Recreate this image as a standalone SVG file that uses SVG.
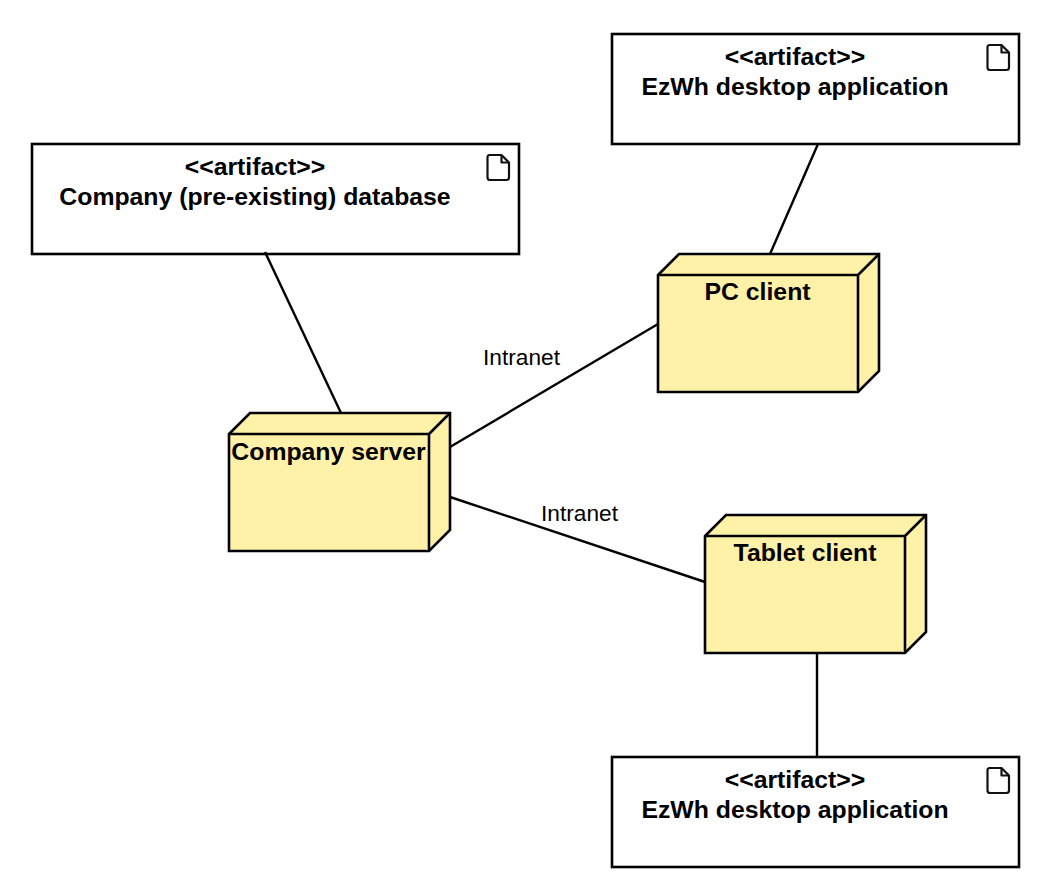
<svg xmlns="http://www.w3.org/2000/svg" width="1038" height="892" viewBox="0 0 1038 892">
<style>
.box{fill:#fff;stroke:#000;stroke-width:2.6}
.node{fill:#fff2a8;stroke:#000;stroke-width:2.6;stroke-linejoin:miter}
.conn{fill:none;stroke:#000;stroke-width:2.4}
.icon{fill:none;stroke:#111;stroke-width:2.2;stroke-linejoin:round}
text{font-family:"Liberation Sans",Arial,sans-serif;fill:#000;text-anchor:middle}
.b{font-size:24.8px;font-weight:bold}
.l{font-size:22.7px}
</style>
<defs>
<g id="doc"><path class="icon" d="M2.500 0H14.500L22 7.500V22.500Q22 25 19.500 25H3Q0.500 25 0.500 22.500V2.500Q0.500 0 2.500 0Z"/><path class="icon" d="M14.500 0V7.500H22"/></g>
<g id="cube"><path class="node" d="M0 21L21 0H221V117L200 138H0Z"/><path class="node" d="M0 21H200V138M200 21L221 0"/></g>
</defs>
<g id="artifact-db"><rect class="box" x="32" y="144" width="487" height="110"/><use href="#doc" x="487" y="155"/><text class="b" x="255" y="175">&lt;&lt;artifact&gt;&gt;</text><text class="b" x="255" y="205">Company (pre-existing) database</text></g>
<g id="artifact-desktop-top"><rect class="box" x="612" y="34" width="407" height="110"/><use href="#doc" x="987" y="45"/><text class="b" x="795" y="65">&lt;&lt;artifact&gt;&gt;</text><text class="b" x="795" y="95">EzWh desktop application</text></g>
<g id="artifact-desktop-bottom"><rect class="box" x="612" y="757" width="407" height="110"/><use href="#doc" x="987" y="768"/><text class="b" x="795" y="788">&lt;&lt;artifact&gt;&gt;</text><text class="b" x="795" y="818">EzWh desktop application</text></g>
<g id="company-server"><use href="#cube" x="229" y="413"/><text class="b" x="328.500" y="460">Company server</text></g>
<g id="pc-client"><use href="#cube" x="658" y="254"/><text class="b" x="757.500" y="300">PC client</text></g>
<g id="tablet-client"><use href="#cube" x="705" y="515"/><text class="b" x="805" y="561">Tablet client</text></g>
<g id="connectors">
<path class="conn" d="M265 252L341 413"/>
<path class="conn" d="M818 144L770 254"/>
<path class="conn" d="M450 447L658 324"/>
<path class="conn" d="M450 497L705 582"/>
<path class="conn" d="M817 653V757"/>
</g>
<g id="labels"><text class="l" x="521.500" y="365">Intranet</text><text class="l" x="579.500" y="521">Intranet</text></g>
</svg>
